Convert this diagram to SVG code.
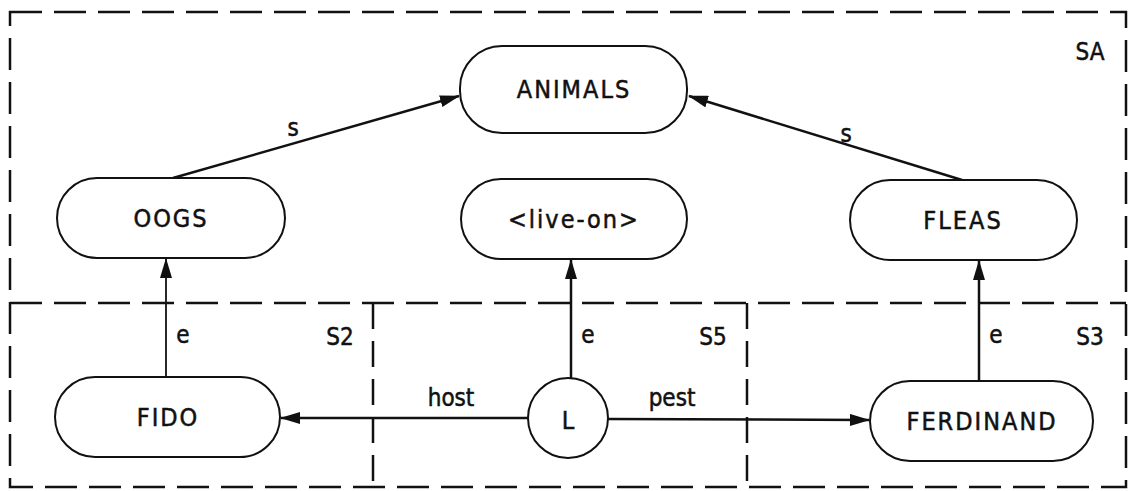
<svg xmlns="http://www.w3.org/2000/svg" width="1132" height="491" viewBox="0 0 1132 491">
<style>
.bg{fill:#ffffff}
.part{fill:none;stroke:#111;stroke-width:2.5;stroke-dasharray:32 12}
.vpart{fill:none;stroke:#111;stroke-width:2.5;stroke-dasharray:26 12}
.node{fill:#ffffff;stroke:#111;stroke-width:2}
.edge{fill:none;stroke:#111;stroke-width:2.5}
.thin{stroke-width:1.8}
text{font-family:"DejaVu Sans Condensed","Liberation Sans",sans-serif;fill:#111;stroke:#111;stroke-width:0.5}
.lbl{font-size:25px;text-anchor:middle;letter-spacing:2px}
.sm{font-size:24px;text-anchor:middle}
</style>
<defs>
<marker id="ah" markerWidth="20" markerHeight="12" refX="19" refY="6" orient="auto" markerUnits="userSpaceOnUse">
<path d="M0,0 L20,6 L0,12 Z" fill="#111"/>
</marker>
</defs>
<rect class="bg" x="0" y="0" width="1132" height="491"/>
<g id="partitions">
<rect class="part" x="10" y="12" width="1116" height="475"/>
<line class="part" x1="10" y1="303" x2="1126" y2="303"/>
<line class="vpart" x1="373" y1="303" x2="373" y2="487"/>
<line class="vpart" x1="747" y1="303" x2="747" y2="487"/>
<text class="sm" x="1090" y="60">SA</text>
<text class="sm" x="340" y="345">S2</text>
<text class="sm" x="713" y="345">S5</text>
<text class="sm" x="1090" y="345">S3</text>
</g>
<g id="connectors">
<line class="edge" x1="173" y1="178" x2="459" y2="96" marker-end="url(#ah)"/>
<text class="sm" x="293" y="136">s</text>
<line class="edge" x1="962" y1="180" x2="689" y2="96" marker-end="url(#ah)"/>
<text class="sm" x="846" y="142">s</text>
<line class="edge thin" x1="166" y1="377" x2="166" y2="259" marker-end="url(#ah)"/>
<text class="sm" x="183" y="343">e</text>
<line class="edge" x1="571" y1="378" x2="571" y2="260" marker-end="url(#ah)"/>
<text class="sm" x="588" y="343">e</text>
<line class="edge" x1="979" y1="381" x2="979" y2="261" marker-end="url(#ah)"/>
<text class="sm" x="996" y="343">e</text>
<line class="edge" x1="528" y1="418" x2="281" y2="418" marker-end="url(#ah)"/>
<text class="sm" x="451" y="406">host</text>
<line class="edge" x1="608" y1="419" x2="869" y2="420" marker-end="url(#ah)"/>
<text class="sm" x="672" y="406">pest</text>
</g>
<g id="node-animals">
<rect class="node" x="460" y="46" width="227" height="87" rx="42" ry="42"/>
<text class="lbl" x="574" y="98">ANIMALS</text>
</g>
<g id="node-oogs">
<rect class="node" x="57" y="178" width="228" height="80" rx="40" ry="40"/>
<text class="lbl" x="171" y="227">OOGS</text>
</g>
<g id="node-live-on">
<rect class="node" x="461" y="179" width="226" height="80" rx="40" ry="40"/>
<text class="lbl" x="574" y="228">&lt;live-on&gt;</text>
</g>
<g id="node-fleas">
<rect class="node" x="850" y="180" width="227" height="80" rx="40" ry="40"/>
<text class="lbl" x="963" y="229">FLEAS</text>
</g>
<g id="node-fido">
<rect class="node" x="55" y="377" width="225" height="80" rx="40" ry="40"/>
<text class="lbl" x="168" y="426">FIDO</text>
</g>
<g id="node-l">
<circle class="node" cx="568" cy="418" r="40"/>
<text class="lbl" x="569" y="429">L</text>
</g>
<g id="node-ferdinand">
<rect class="node" x="870" y="381" width="223" height="80" rx="40" ry="40"/>
<text class="lbl" x="982" y="430">FERDINAND</text>
</g>
</svg>
